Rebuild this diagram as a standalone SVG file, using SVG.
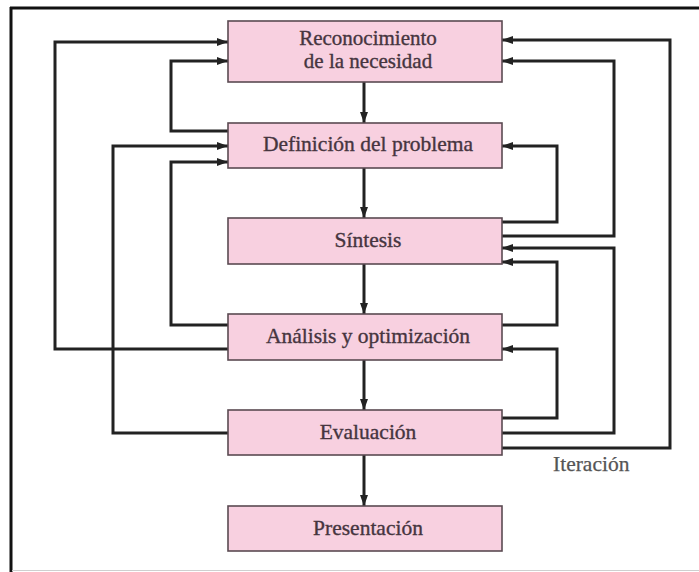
<svg xmlns="http://www.w3.org/2000/svg" width="699" height="572" viewBox="0 0 699 572">
<defs>
<marker id="ah" markerUnits="userSpaceOnUse" markerWidth="11" markerHeight="8" refX="11" refY="4" orient="auto">
<path d="M0,0 L11,4 L0,8 z" fill="#222"/>
</marker>
<style>
.box{fill:#f8d0e0;stroke:#5a4a52;stroke-width:1.6}
.t{font-family:"Liberation Serif","Times New Roman",serif;font-size:21.5px;fill:#46353f;stroke:#46353f;stroke-width:0.35;text-anchor:middle}
.t2{font-size:21px}
.c{fill:none;stroke:#222;stroke-width:3}
.lbl{font-family:"Liberation Serif","Times New Roman",serif;font-size:21.5px;fill:#555;stroke:#555;stroke-width:0.25}
</style>
</defs>
<rect width="699" height="572" fill="#fff"/>
<g id="frame">
<line x1="11" y1="7" x2="11" y2="572" stroke="#111" stroke-width="3"/>
<line x1="10" y1="8" x2="699" y2="8" stroke="#111" stroke-width="3"/>
<line x1="12" y1="570.5" x2="699" y2="570.5" stroke="#cfcfcf" stroke-width="1"/>
</g>
<g id="connectors">
<path class="c" d="M364,82 V123" marker-end="url(#ah)"/>
<path class="c" d="M364,168 V218" marker-end="url(#ah)"/>
<path class="c" d="M364,264 V314" marker-end="url(#ah)"/>
<path class="c" d="M364,360 V410" marker-end="url(#ah)"/>
<path class="c" d="M364,455 V506" marker-end="url(#ah)"/>
<path class="c" d="M228,349 H55 V42 H228" marker-end="url(#ah)"/>
<path class="c" d="M228,131 H171 V61 H228" marker-end="url(#ah)"/>
<path class="c" d="M228,433 H113 V146 H228" marker-end="url(#ah)"/>
<path class="c" d="M228,325 H171 V162 H228" marker-end="url(#ah)"/>
<path class="c" d="M502,448 H670 V40 H502" marker-end="url(#ah)"/>
<path class="c" d="M502,236 H614 V61 H502" marker-end="url(#ah)"/>
<path class="c" d="M502,222 H557 V146 H502" marker-end="url(#ah)"/>
<path class="c" d="M502,433 H614 V248 H502" marker-end="url(#ah)"/>
<path class="c" d="M502,325 H557 V262 H502" marker-end="url(#ah)"/>
<path class="c" d="M502,418 H557 V349 H502" marker-end="url(#ah)"/>
</g>
<g id="n1">
<rect class="box" x="228" y="21" width="274" height="61"/>
<text class="t t2" x="368" y="45">Reconocimiento</text>
<text class="t t2" x="368" y="68">de la necesidad</text>
</g>
<g id="n2">
<rect class="box" x="228" y="123" width="274" height="45"/>
<text class="t" x="368" y="151">Definición del problema</text>
</g>
<g id="n3">
<rect class="box" x="228" y="218" width="274" height="46"/>
<text class="t" x="368" y="247">Síntesis</text>
</g>
<g id="n4">
<rect class="box" x="228" y="314" width="274" height="46"/>
<text class="t" x="368" y="343">Análisis y optimización</text>
</g>
<g id="n5">
<rect class="box" x="228" y="410" width="274" height="45"/>
<text class="t" x="368" y="439">Evaluación</text>
</g>
<g id="n6">
<rect class="box" x="228" y="506" width="274" height="45"/>
<text class="t" x="368" y="535">Presentación</text>
</g>
<g id="label">
<text class="lbl" x="553" y="471">Iteración</text>
</g>
</svg>
